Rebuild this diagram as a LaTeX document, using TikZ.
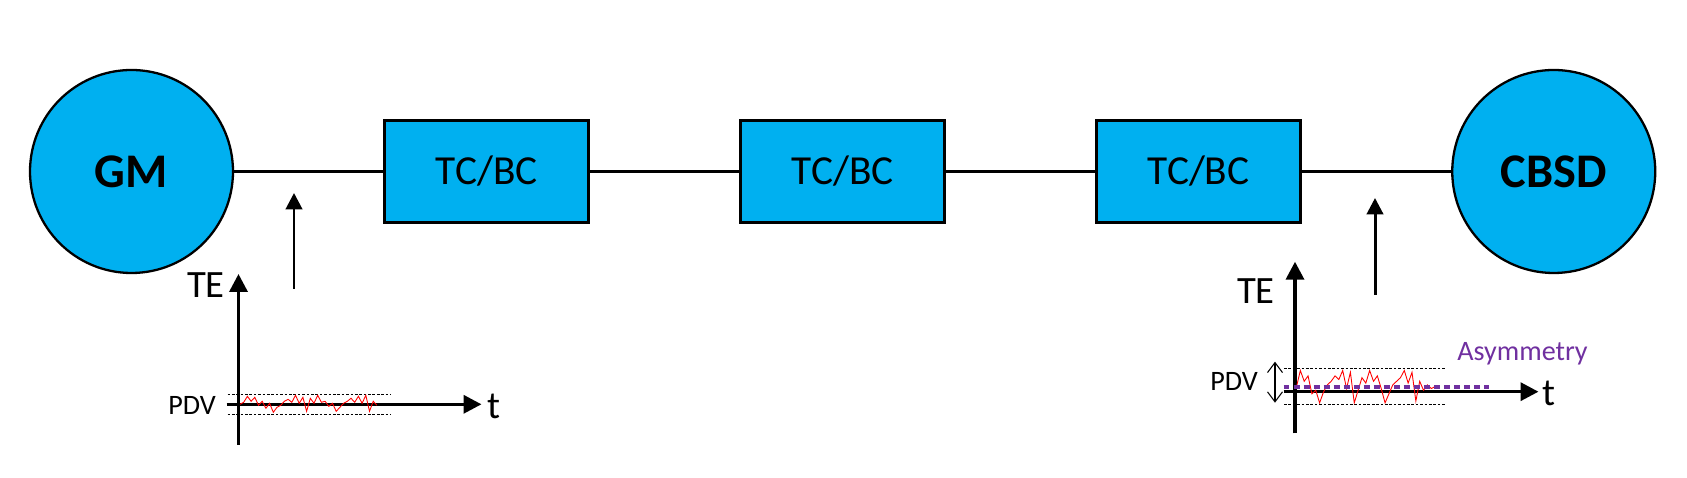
\documentclass[tikz,border=0pt]{standalone}
\usepackage{fontspec}
\setmainfont{Carlito}
\usepackage{xcolor}
\usetikzlibrary{arrows,arrows.meta}
\usetikzlibrary{calc}
\usetikzlibrary{positioning}
\definecolor{skyblue}{HTML}{00B0F0}
\definecolor{asym}{HTML}{7030A0}

\begin{document}
\begin{tikzpicture}[-,>=stealth',auto,node distance=2.98cm, semithick]
 \tikzstyle{clk}=[draw, circle, line width=1.3pt, fill=skyblue, minimum size=4.06cm, inner sep=0pt, font=\fontsize{27.5}{32}\selectfont\bfseries]
 \tikzstyle{relay}=[draw, rectangle, line width=1.7pt, fill=skyblue, minimum width=4.08cm, minimum height=2.04cm, font=\fontsize{23.5}{27}\selectfont]
 \tikzstyle{link}=[line width=2pt]
 \tikzstyle{probe}=[line width=1.7pt, -{Triangle[length=0.33cm,width=0.33cm]}]
 \tikzstyle{axis}=[line width=2pt, -{Triangle[length=0.36cm,width=0.36cm]}]
 \tikzstyle{axlabel}=[inner sep=0pt, font=\fontsize{22}{26}\selectfont]
 \tikzstyle{small}=[inner sep=0pt, font=\fontsize{16}{19}\selectfont]
 \tikzstyle{band}=[line width=0.5pt, dash pattern=on 1.5pt off 1pt]
 \tikzstyle{noise}=[red, line width=0.5pt, line join=miter]
 \useasboundingbox (0,0) rectangle (33.74,9.56);

  % chain of clocks
  \node[clk]   (GM)   at (2.63,6.13)  {GM};
  \node[relay] (R1)   [right=of GM]   {TC/BC};
  \node[relay] (R2)   [right=of R1]   {TC/BC};
  \node[relay] (R3)   [right=of R2]   {TC/BC};
  \node[clk]   (CBSD) [right=of R3]   {CBSD};
  \path[link]
     (GM) edge (R1)
     (R1) edge (R2)
     (R2) edge (R3)
     (R3) edge (CBSD);

  % measurement points
  \coordinate (P1) at (5.88,3.78);  \coordinate (P1t) at (5.88,5.70);
  \coordinate (P2) at (27.5,3.66);  \coordinate (P2t) at (27.5,5.60);
  \draw[probe] (P1) -- (P1t);
  \draw[probe] (P2) -- (P2t);

  % left plot
  \coordinate (Y1b) at (4.77,0.66);  \coordinate (Y1t) at (4.77,4.08);
  \coordinate (X1l) at (4.53,1.474); \coordinate (X1r) at (9.63,1.474);
  \draw[axis] (Y1b) -- (Y1t);
  \draw[axis] (X1l) -- (X1r);
  \node[axlabel] (TE1)  at (4.12,3.86) {TE};
  \node[axlabel, anchor=west] (t1) at (9.73,1.43) {t};
  \node[small] (PDV1) at (3.84,1.46) {PDV};
  \draw[band] (4.55,1.674) -- (7.81,1.674);
  \draw[band] (4.55,1.274) -- (7.81,1.274);
  \draw[noise] (4.8,1.474) \foreach \v [count=\i] in {0.2,0.8,0.3,0.7,-0.1,0.3,-0.4,0.1,-0.8,-0.3,-0.1,0.3,0.5,0.2,0.9,0.1,0.7,-0.7,0.6,0.1,0.9,0.2,0.3,-0.2,0.1,-0.7,-0.3,0.1,0.3,0.6,0.2,0.8,0.1,0.9,-0.7,0.3,-0.1}
      { -- ({4.8+\i*0.074},{1.474+0.2*\v}) };

  % right plot
  \coordinate (Y2b) at (25.9,0.894); \coordinate (Y2t) at (25.9,4.326);
  \coordinate (X2l) at (25.67,1.726); \coordinate (X2r) at (30.77,1.726);
  \draw[axis] (Y2b) -- (Y2t);
  \draw[axis] (X2l) -- (X2r);
  \node[axlabel] (TE2)  at (25.12,3.73) {TE};
  \node[axlabel, anchor=west] (t2) at (30.83,1.70) {t};
  \node[small] (PDV2) at (24.68,1.93) {PDV};
  \coordinate (D2t) at (25.5,2.326); \coordinate (D2b) at (25.5,1.506);
  \draw[line width=0.6pt, {Straight Barb[length=0.2cm,width=0.3cm]}-{Straight Barb[length=0.2cm,width=0.3cm]}] (D2t) -- (D2b);
  \draw[band] (25.68,2.194) -- (28.93,2.194);
  \draw[band] (25.68,1.48) -- (28.93,1.48);
  \draw[noise] (25.93,1.826) \foreach \v [count=\i] in {0.9,0.3,0.6,-0.4,-0.2,-0.9,-0.3,0.1,0.3,0.6,0.4,0.9,-0.1,0.8,-0.9,-0.2,0.5,0.2,0.9,0.3,0.6,-0.1,-0.9,-0.4,0.1,0.3,0.5,0.9,0.2,0.8,-0.8,0.3,-0.2,0.1,-0.1,0.0}
      { -- ({25.93+\i*0.077},{1.826+0.36*\v}) };
  \coordinate (A2l) at (25.67,1.826); \coordinate (A2r) at (29.77,1.826);
  \draw[asym, line width=2.3pt, dash pattern=on 3.4pt off 2.3pt] (A2l) -- (A2r);
  \node[small, text=asym] (ASY) at (30.45,2.49) {Asymmetry};
\end{tikzpicture}
\end{document}
